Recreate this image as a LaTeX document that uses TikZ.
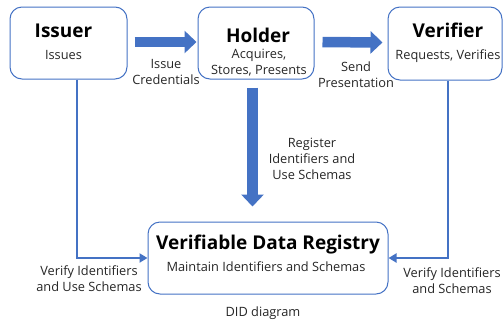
\documentclass[tikz,border=0pt]{standalone}
\usepackage{fontspec}
\setmainfont{Open Sans}
\usetikzlibrary{arrows.meta,positioning}
\definecolor{didblue}{HTML}{4472C4}
\definecolor{didtext}{HTML}{262626}

\begin{document}
\begin{tikzpicture}[x=1pt,y=-1pt,
  party/.style={draw=didblue, line width=1pt, rounded corners=12pt, inner sep=0pt},
  title/.style={font=\fontsize{19}{22}\selectfont\bfseries, text=black, inner sep=0pt, anchor=base},
  note/.style={font=\fontsize{12.8}{16}\selectfont, text=didtext, align=center, inner sep=0pt, anchor=base},
  bigarrow/.style={didblue, line width=10.5pt, -{Triangle[length=12pt,width=22pt]}},
  link/.style={didblue, line width=2.8pt, -{Triangle[length=8pt,width=9pt]}}]
\useasboundingbox (0,0) rectangle (503,322);

% the three parties and the registry
\node[party, minimum width=117pt, minimum height=72pt] (issuer) at (68.5,43) {};
\node[party, minimum width=116pt, minimum height=72pt] (holder) at (256,43) {};
\node[party, minimum width=114pt, minimum height=73pt] (verifier) at (445,43.5) {};
\node[party, minimum width=240pt, minimum height=72pt] (registry) at (268,258) {};

\node[title] (issuer-name) at (63.5,37) {Issuer};
\node[note] (issuer-role) at (63.5,59) {Issues};
\node[title] (holder-name) at (258,42) {Holder};
\node[note] (holder-role) at (259,74) {Acquires,\\Stores, Presents};
\node[title] (verifier-name) at (448,37) {Verifier};
\node[note] (verifier-role) at (448,59) {Requests, Verifies};
\node[title] (registry-name) at (268,249) {Verifiable Data Registry};
\node[note] (registry-role) at (266,271) {Maintain Identifiers and Schemas};

% flows between them
\draw[bigarrow, shorten <=7pt, shorten >=1pt] ([yshift=1pt]issuer.east) -- ([yshift=1pt]holder.west);
\draw[bigarrow, shorten <=8pt, shorten >=5pt] ([yshift=1pt]holder.east) -- ([yshift=1pt]verifier.west);
\draw[bigarrow, shorten <=8pt, shorten >=15pt] ([xshift=-3.5pt]holder.south) -- ([xshift=-3.5pt]holder.south |- registry.north);
\draw[link] ([xshift=8.5pt]issuer.south) |- (registry.west);
\draw[link] ([xshift=3pt]verifier.south) |- (registry.east);

\node[note] (issue-lbl) at (166,84) {Issue\\Credentials};
\node[note] (send-lbl) at (356,87) {Send\\Presentation};
\node[note] (register-lbl) at (312,179) {Register\\Identifiers and\\Use Schemas};
\node[note] (verify-use-lbl) at (89,291) {Verify Identifiers\\and Use Schemas};
\node[note] (verify-lbl) at (452,293) {Verify Identifiers\\and Schemas};
\node[note] (caption) at (263,316) {DID diagram};
\end{tikzpicture}
\end{document}
